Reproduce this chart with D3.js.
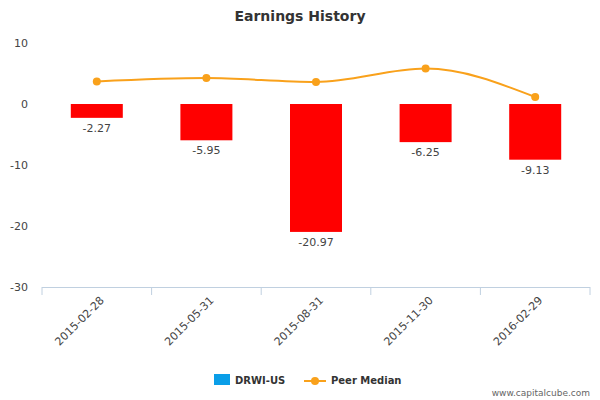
<!DOCTYPE html><html><head><meta charset="utf-8"><script src="https://cdn.jsdelivr.net/npm/d3@7"></script>
<style>body{margin:0;background:#fff}text{font-family:"DejaVu Sans",sans-serif}</style></head><body><svg width="600" height="400"></svg>
<script>
const categories=["2015-02-28","2015-05-31","2015-08-31","2015-11-30","2016-02-29"];
const earnings=[-2.27,-5.95,-20.97,-6.25,-9.13];
const peerMedian=[3.7,4.25,3.6,5.8,1.15];
const yTicks=[10,0,-10,-20,-30];
const svg=d3.select("svg");
const L=42,R=590,T=43,B=287;
const x=d3.scaleBand().domain(categories).range([L,R]);
const y=d3.scaleLinear().domain([-30,10]).range([B,T]);
svg.append("text").attr("x",300).attr("y",21).attr("text-anchor","middle").attr("font-size",14).attr("font-weight","bold").attr("fill","#333").text("Earnings History");
yTicks.forEach(t=>{svg.append("text").attr("x",28).attr("y",y(t)+4).attr("text-anchor","end").attr("font-size",11).attr("fill","#444").text(t);});
svg.append("line").attr("x1",L).attr("x2",R).attr("y1",B+0.5).attr("y2",B+0.5).attr("stroke","#c0d0e0");
d3.range(categories.length+1).forEach(i=>{const xx=L+i*x.bandwidth();svg.append("line").attr("x1",xx).attr("x2",xx).attr("y1",B).attr("y2",B+8).attr("stroke","#c0d0e0");});
categories.forEach((c,i)=>{const cx=x(c)+x.bandwidth()/2;
svg.append("text").attr("transform",`translate(${cx+8},${B+14}) rotate(-45)`).attr("text-anchor","end").attr("font-size",11).attr("fill","#444").text(c);
svg.append("rect").attr("x",cx-26).attr("width",52).attr("y",y(0)).attr("height",y(earnings[i])-y(0)).attr("fill","#ff0000");
svg.append("text").attr("x",cx).attr("y",y(earnings[i])+14).attr("text-anchor","middle").attr("font-size",11).attr("fill","#444").text(earnings[i].toFixed(2));});
const pts=categories.map((c,i)=>[x(c)+x.bandwidth()/2,y(peerMedian[i])]);
svg.append("path").attr("d",d3.line().curve(d3.curveMonotoneX)(pts)).attr("fill","none").attr("stroke","#f9a11b").attr("stroke-width",2);
pts.forEach(p=>svg.append("circle").attr("cx",p[0]).attr("cy",p[1]).attr("r",4).attr("fill","#f9a11b"));
svg.append("rect").attr("x",214).attr("y",374).attr("width",16).attr("height",11).attr("fill","#0a9ee8");
svg.append("text").attr("x",235).attr("y",384).attr("font-size",10).attr("font-weight","bold").attr("fill","#333").text("DRWI-US");
svg.append("line").attr("x1",304).attr("x2",326).attr("y1",381).attr("y2",381).attr("stroke","#f9a11b").attr("stroke-width",2);
svg.append("circle").attr("cx",315).attr("cy",381).attr("r",4).attr("fill","#f9a11b");
svg.append("text").attr("x",331).attr("y",384).attr("font-size",10).attr("font-weight","bold").attr("fill","#333").text("Peer Median");
svg.append("text").attr("x",590).attr("y",396).attr("text-anchor","end").attr("font-size",9).attr("fill","#666").text("www.capitalcube.com");
</script></body></html>
